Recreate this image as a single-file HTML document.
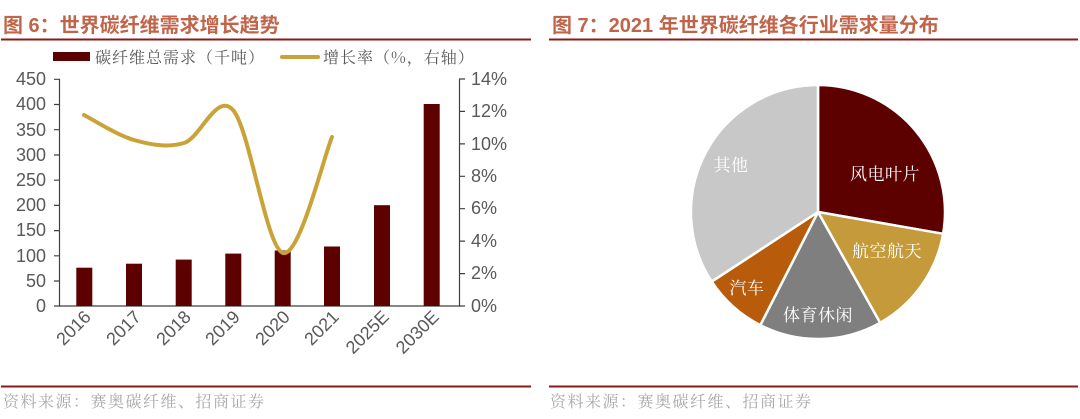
<!DOCTYPE html>
<html><head><meta charset="utf-8"><style>
html,body{margin:0;padding:0;background:#fff;}
svg{display:block;}
</style></head><body>
<svg width="1080" height="419" xmlns="http://www.w3.org/2000/svg" font-family="Liberation Sans, 'Noto Sans CJK SC', sans-serif">
<g font-weight="bold" font-size="20" fill="#c0654a">
<text x="3" y="32">图 6：世界碳纤维需求增长趋势</text>
<text x="552" y="32">图 7：2021 年世界碳纤维各行业需求量分布</text>
</g>
<rect x="1" y="38.5" width="530" height="2" fill="#8b1a1a"/>
<rect x="549" y="38.5" width="529" height="2" fill="#8b1a1a"/>
<rect x="1" y="385.5" width="530" height="2" fill="#8b1a1a"/>
<rect x="549" y="385.5" width="529" height="2" fill="#8b1a1a"/>
<g font-family="'Noto Serif CJK SC', 'Noto Sans CJK SC', serif" font-size="16" letter-spacing="1.5" fill="#a8a8a8">
<text x="3" y="407">资料来源：赛奥碳纤维、招商证券</text>
<text x="550" y="407">资料来源：赛奥碳纤维、招商证券</text>
</g>
<rect x="53" y="52" width="37" height="9" fill="#5c0000"/>
<text x="95" y="63" font-family="'Noto Serif CJK SC', 'Noto Sans CJK SC', serif" font-size="16" letter-spacing="1" fill="#595959">碳纤维总需求（千吨）</text>
<rect x="280" y="55" width="40" height="4" rx="2" fill="#c9a238"/>
<text x="323" y="63" font-family="'Noto Serif CJK SC', 'Noto Sans CJK SC', serif" font-size="16" letter-spacing="1" fill="#595959">增长率（%，右轴）</text>
<g stroke="#404040" stroke-width="1.2" fill="none">
<line x1="59.5" y1="79" x2="59.5" y2="306"/>
<line x1="459.5" y1="79" x2="459.5" y2="306"/>
<line x1="59" y1="306" x2="460" y2="306"/>
<path d="M54 79.3h6M54 104.5h6M54 129.7h6M54 155h6M54 180.2h6M54 205.4h6M54 230.6h6M54 255.8h6M54 281h6M54 306h6"/>
<path d="M459 79h6M459 111.4h6M459 143.9h6M459 176.3h6M459 208.7h6M459 241.1h6M459 273.6h6M459 306h6"/>
</g>
<g font-size="18" fill="#595959" text-anchor="end">
<text x="46" y="85">450</text><text x="46" y="110">400</text><text x="46" y="136">350</text>
<text x="46" y="161">300</text><text x="46" y="186">250</text><text x="46" y="211">200</text>
<text x="46" y="236">150</text><text x="46" y="262">100</text><text x="46" y="287">50</text><text x="46" y="312">0</text>
</g>
<g font-size="18" fill="#595959">
<text x="471" y="85">14%</text><text x="471" y="117">12%</text><text x="471" y="150">10%</text>
<text x="471" y="182">8%</text><text x="471" y="214">6%</text><text x="471" y="247">4%</text>
<text x="471" y="279">2%</text><text x="471" y="312">0%</text>
</g>
<g fill="#5c0000">
<rect x="76.3" y="267.7" width="16" height="38.3"/>
<rect x="126" y="263.7" width="16" height="42.3"/>
<rect x="175.7" y="259.6" width="16" height="46.4"/>
<rect x="225.3" y="253.6" width="16" height="52.4"/>
<rect x="274.7" y="250.5" width="16" height="55.5"/>
<rect x="324" y="246.5" width="16" height="59.5"/>
<rect x="374" y="205.2" width="16" height="100.8"/>
<rect x="423.7" y="104" width="16" height="202"/>
</g>
<path d="M84 115 C92.3 119.2 117.3 135.3 134 140 C150.7 144.7 167.5 148 184 143 C200.5 138 216.5 91.7 233 110 C249.5 128.3 266.5 248.5 283 253 C299.5 257.5 323.8 156.3 332 137" fill="none" stroke="#c9a238" stroke-width="4" stroke-linecap="round"/>
<g font-size="18" fill="#595959" text-anchor="end">
<text transform="translate(92,318) rotate(-45)">2016</text>
<text transform="translate(142,318) rotate(-45)">2017</text>
<text transform="translate(192,318) rotate(-45)">2018</text>
<text transform="translate(241,318) rotate(-45)">2019</text>
<text transform="translate(291,318) rotate(-45)">2020</text>
<text transform="translate(340,318) rotate(-45)">2021</text>
<text transform="translate(390,318) rotate(-45)">2025E</text>
<text transform="translate(440,318) rotate(-45)">2030E</text>
</g>
<g stroke="#fff" stroke-width="2.5" stroke-linejoin="round">
<path d="M818 212 L818 85 A127 127 0 0 1 943.1 233.8 Z" fill="#5c0000"/>
<path d="M818 212 L943.1 233.8 A127 127 0 0 1 880.1 322.8 Z" fill="#c49a3a"/>
<path d="M818 212 L880.1 322.8 A127 127 0 0 1 760.3 325.2 Z" fill="#7f7f7f"/>
<path d="M818 212 L760.3 325.2 A127 127 0 0 1 711.7 281.6 Z" fill="#b85c0b"/>
<path d="M818 212 L711.7 281.6 A127 127 0 0 1 818 85 Z" fill="#c8c8c8"/>
</g>
<g font-family="'Noto Serif CJK SC', 'Noto Sans CJK SC', serif" font-size="17" letter-spacing="0.5" fill="#fff" text-anchor="middle">
<text x="885" y="180">风电叶片</text>
<text x="887" y="257">航空航天</text>
<text x="818" y="321">体育休闲</text>
<text x="747" y="294">汽车</text>
<text x="731" y="171">其他</text>
</g>
</svg>
</body></html>
